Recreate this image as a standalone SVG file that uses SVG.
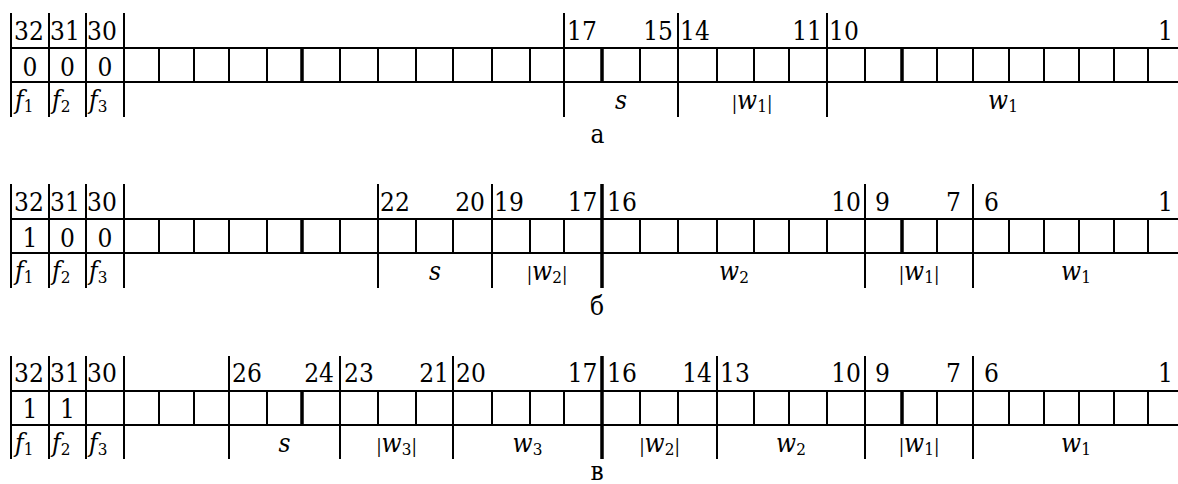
<svg xmlns="http://www.w3.org/2000/svg" xmlns:xlink="http://www.w3.org/1999/xlink" width="1178" height="484" viewBox="0 0 1178 484">
<style>
.ln{stroke:#000;stroke-width:2;fill:none}
.tk{stroke:#000;stroke-width:3.5;fill:none}
text{font-family:"DejaVu Serif Condensed","DejaVu Serif",serif;font-size:26px;fill:#000}
.m{text-anchor:middle}
.e{text-anchor:end}
.i{font-style:italic}
.sub{font-size:17px;font-style:normal}
.bar{font-size:18px;font-style:normal}
</style>
<defs>
<path id="grid" class="ln" d="M11,0H1178M11,34H1178M11,0V34M49,0V34M86,0V34M124,0V34M159,0V34M194,0V34M229,0V34M267,0V34M302,0V34M340,0V34M378,0V34M416,0V34M453,0V34M492,0V34M530,0V34M564,0V34M602,0V34M640,0V34M678,0V34M717,0V34M754,0V34M789,0V34M827,0V34M865,0V34M902,0V34M937,0V34M973,0V34M1009,0V34M1044,0V34M1079,0V34M1114,0V34M1148,0V34"/>
</defs>

<g id="reg-a">
<use xlink:href="#grid" transform="translate(0,48)"/>
<path class="ln" d="M11,13V117M49,13V117M86,13V117M124,13V117M564,13V117M678,13V117M827,13V117"/>
<path class="tk" d="M302,48V82M602,48V82M902,48V82"/>
<g>
<text x="14" y="39.5">32</text><text x="50" y="39.5">31</text><text x="87" y="39.5">30</text>
<text x="567" y="39.5">17</text><text class="e" x="673" y="39.5">15</text>
<text x="680" y="39.5">14</text><text class="e" x="822" y="39.5">11</text>
<text x="829" y="39.5">10</text><text class="e" x="1173" y="39.5">1</text>
<text class="m" x="30" y="76">0</text><text class="m" x="67.5" y="76">0</text><text class="m" x="105" y="76">0</text>
<text class="i" x="15" y="109">f<tspan class="sub" dy="3">1</tspan></text>
<text class="i" x="52" y="109">f<tspan class="sub" dy="3">2</tspan></text>
<text class="i" x="89" y="109">f<tspan class="sub" dy="3">3</tspan></text>
<text class="i m" x="621" y="109">s</text>
<text class="m" x="752" y="109"><tspan class="bar">|</tspan><tspan class="i">w</tspan><tspan class="sub" dy="3">1</tspan><tspan class="bar" dy="-3">|</tspan></text>
<text class="m" x="1003" y="109"><tspan class="i">w</tspan><tspan class="sub" dy="3">1</tspan></text>
<text class="m" x="597.5" y="143">а</text>
</g>
</g>

<g id="reg-b">
<use xlink:href="#grid" transform="translate(0,219)"/>
<path class="ln" d="M11,184V288M49,184V288M86,184V288M124,184V288M378,184V288M492,184V288M865,184V288M973,184V288"/>
<path class="tk" d="M302,219V253M902,219V253M602,184V288"/>
<g>
<text x="14" y="210.5">32</text><text x="50" y="210.5">31</text><text x="87" y="210.5">30</text>
<text x="380" y="210.5">22</text><text class="e" x="485" y="210.5">20</text>
<text x="494" y="210.5">19</text><text class="e" x="597.5" y="210.5">17</text>
<text x="607" y="210.5">16</text><text class="e" x="861" y="210.5">10</text>
<text x="875" y="210.5">9</text><text class="e" x="961" y="210.5">7</text>
<text x="984" y="210.5">6</text><text class="e" x="1173" y="210.5">1</text>
<text class="m" x="30" y="247">1</text><text class="m" x="67.5" y="247">0</text><text class="m" x="105" y="247">0</text>
<text class="i" x="15" y="280">f<tspan class="sub" dy="3">1</tspan></text>
<text class="i" x="52" y="280">f<tspan class="sub" dy="3">2</tspan></text>
<text class="i" x="89" y="280">f<tspan class="sub" dy="3">3</tspan></text>
<text class="i m" x="435" y="280">s</text>
<text class="m" x="547" y="280"><tspan class="bar">|</tspan><tspan class="i">w</tspan><tspan class="sub" dy="3">2</tspan><tspan class="bar" dy="-3">|</tspan></text>
<text class="m" x="734" y="280"><tspan class="i">w</tspan><tspan class="sub" dy="3">2</tspan></text>
<text class="m" x="919" y="280"><tspan class="bar">|</tspan><tspan class="i">w</tspan><tspan class="sub" dy="3">1</tspan><tspan class="bar" dy="-3">|</tspan></text>
<text class="m" x="1076" y="280"><tspan class="i">w</tspan><tspan class="sub" dy="3">1</tspan></text>
<text class="m" x="597" y="315">б</text>
</g>
</g>

<g id="reg-c">
<use xlink:href="#grid" transform="translate(0,391)"/>
<path class="ln" d="M11,356V459M49,356V459M86,356V459M124,356V459M229,356V459M340,356V459M453,356V459M717,356V459M865,356V459M973,356V459"/>
<path class="tk" d="M302,391V425M902,391V425M602,356V459"/>
<g>
<text x="14" y="382">32</text><text x="50" y="382">31</text><text x="87" y="382">30</text>
<text x="232" y="382">26</text><text class="e" x="334" y="382">24</text>
<text x="344" y="382">23</text><text class="e" x="449" y="382">21</text>
<text x="456" y="382">20</text><text class="e" x="597.5" y="382">17</text>
<text x="607" y="382">16</text><text class="e" x="712" y="382">14</text>
<text x="720" y="382">13</text><text class="e" x="861" y="382">10</text>
<text x="875" y="382">9</text><text class="e" x="961" y="382">7</text>
<text x="984" y="382">6</text><text class="e" x="1173" y="382">1</text>
<text class="m" x="30" y="418">1</text><text class="m" x="67.5" y="418">1</text>
<text class="i" x="15" y="452">f<tspan class="sub" dy="3">1</tspan></text>
<text class="i" x="52" y="452">f<tspan class="sub" dy="3">2</tspan></text>
<text class="i" x="89" y="452">f<tspan class="sub" dy="3">3</tspan></text>
<text class="i m" x="284.5" y="452">s</text>
<text class="m" x="396.5" y="452"><tspan class="bar">|</tspan><tspan class="i">w</tspan><tspan class="sub" dy="3">3</tspan><tspan class="bar" dy="-3">|</tspan></text>
<text class="m" x="527.5" y="452"><tspan class="i">w</tspan><tspan class="sub" dy="3">3</tspan></text>
<text class="m" x="659.5" y="452"><tspan class="bar">|</tspan><tspan class="i">w</tspan><tspan class="sub" dy="3">2</tspan><tspan class="bar" dy="-3">|</tspan></text>
<text class="m" x="791" y="452"><tspan class="i">w</tspan><tspan class="sub" dy="3">2</tspan></text>
<text class="m" x="919" y="452"><tspan class="bar">|</tspan><tspan class="i">w</tspan><tspan class="sub" dy="3">1</tspan><tspan class="bar" dy="-3">|</tspan></text>
<text class="m" x="1076" y="452"><tspan class="i">w</tspan><tspan class="sub" dy="3">1</tspan></text>
<text class="m" x="597" y="480">в</text>
</g>
</g>
</svg>
